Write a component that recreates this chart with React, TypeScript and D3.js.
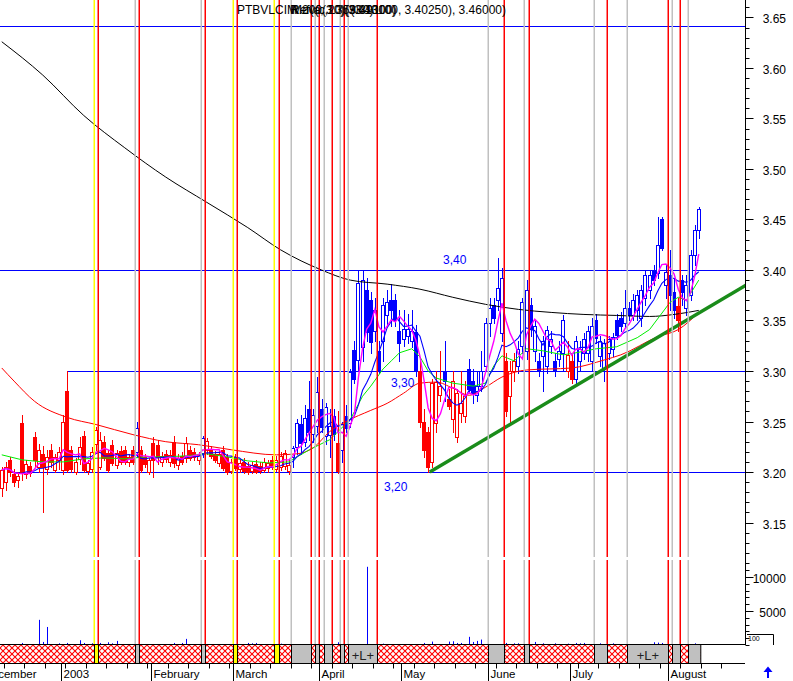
import React, { useEffect, useRef } from "react";
import * as d3 from "d3";

type Bar = [number, number, number, number]; // open, high, low, close

// daily candles
const dec: Bar[] = [
  [3.184, 3.205, 3.176, 3.202], [3.190, 3.210, 3.182, 3.205], [3.212, 3.215, 3.196, 3.200],
  [3.198, 3.203, 3.186, 3.190], [3.192, 3.200, 3.185, 3.196], [3.249, 3.256, 3.192, 3.200],
  [3.198, 3.212, 3.194, 3.208], [3.206, 3.210, 3.196, 3.199], [3.235, 3.240, 3.205, 3.212],
  [3.205, 3.228, 3.200, 3.222], [3.218, 3.226, 3.160, 3.205], [3.203, 3.222, 3.198, 3.215],
  [3.222, 3.228, 3.205, 3.210], [3.202, 3.218, 3.200, 3.215], [3.212, 3.225, 3.203, 3.220],
];
const jan: Bar[] = [
  [3.202, 3.256, 3.198, 3.250], [3.280, 3.300, 3.200, 3.202], [3.222, 3.226, 3.200, 3.203],
  [3.200, 3.214, 3.198, 3.210], [3.213, 3.235, 3.208, 3.225], [3.236, 3.241, 3.200, 3.202],
  [3.201, 3.212, 3.198, 3.209], [3.203, 3.225, 3.200, 3.220], [3.228, 3.245, 3.222, 3.242],
  [3.205, 3.240, 3.203, 3.232], [3.230, 3.236, 3.212, 3.214], [3.219, 3.222, 3.200, 3.202],
  [3.227, 3.232, 3.207, 3.209], [3.207, 3.222, 3.204, 3.219], [3.221, 3.226, 3.208, 3.210],
  [3.222, 3.226, 3.208, 3.210], [3.210, 3.218, 3.206, 3.215], [3.222, 3.226, 3.208, 3.210],
  [3.220, 3.250, 3.215, 3.244], [3.222, 3.226, 3.200, 3.202], [3.215, 3.218, 3.205, 3.208],
  [3.200, 3.214, 3.198, 3.212],
];
const feb: Bar[] = [
  [3.229, 3.235, 3.195, 3.212], [3.227, 3.232, 3.208, 3.215], [3.210, 3.220, 3.206, 3.216],
  [3.218, 3.222, 3.210, 3.213], [3.210, 3.222, 3.206, 3.217], [3.230, 3.236, 3.205, 3.209],
  [3.207, 3.218, 3.203, 3.214], [3.216, 3.220, 3.208, 3.210], [3.214, 3.235, 3.210, 3.229],
  [3.222, 3.226, 3.212, 3.214], [3.220, 3.224, 3.212, 3.215], [3.212, 3.220, 3.208, 3.217],
  [3.219, 3.236, 3.215, 3.234], [3.222, 3.234, 3.218, 3.231], [3.222, 3.226, 3.214, 3.216],
  [3.218, 3.221, 3.210, 3.212], [3.209, 3.222, 3.206, 3.218], [3.222, 3.226, 3.202, 3.204],
  [3.215, 3.218, 3.198, 3.200], [3.201, 3.213, 3.199, 3.210],
];
const mar: Bar[] = [
  [3.215, 3.218, 3.202, 3.204], [3.203, 3.212, 3.200, 3.209], [3.210, 3.214, 3.199, 3.201],
  [3.206, 3.210, 3.198, 3.200], [3.201, 3.210, 3.199, 3.207], [3.208, 3.212, 3.199, 3.200],
  [3.206, 3.210, 3.199, 3.201], [3.202, 3.214, 3.200, 3.210], [3.204, 3.212, 3.200, 3.209],
  [3.212, 3.216, 3.203, 3.205], [3.203, 3.216, 3.201, 3.212], [3.205, 3.220, 3.202, 3.216],
  [3.206, 3.222, 3.203, 3.219], [3.201, 3.212, 3.198, 3.207], [3.215, 3.226, 3.205, 3.224],
  [3.225, 3.252, 3.218, 3.249], [3.248, 3.256, 3.218, 3.229], [3.230, 3.266, 3.226, 3.253],
  [3.262, 3.290, 3.232, 3.240], [3.238, 3.262, 3.230, 3.256], [3.246, 3.294, 3.240, 3.279],
];
const apr: Bar[] = [
  [3.262, 3.272, 3.240, 3.245], [3.236, 3.268, 3.228, 3.264], [3.237, 3.262, 3.215, 3.246],
  [3.255, 3.262, 3.232, 3.238], [3.229, 3.260, 3.199, 3.201], [3.222, 3.250, 3.210, 3.248],
  [3.255, 3.266, 3.240, 3.244], [3.249, 3.302, 3.245, 3.299], [3.321, 3.330, 3.288, 3.292],
  [3.311, 3.400, 3.300, 3.387], [3.324, 3.400, 3.310, 3.390], [3.380, 3.392, 3.330, 3.339],
  [3.370, 3.378, 3.318, 3.329], [3.340, 3.372, 3.330, 3.360], [3.320, 3.330, 3.298, 3.300],
  [3.330, 3.372, 3.310, 3.365], [3.355, 3.380, 3.345, 3.368], [3.370, 3.386, 3.345, 3.360],
  [3.370, 3.376, 3.345, 3.350], [3.340, 3.360, 3.310, 3.328],
];
const may: Bar[] = [
  [3.332, 3.360, 3.325, 3.342], [3.335, 3.356, 3.328, 3.342], [3.330, 3.360, 3.324, 3.340],
  [3.339, 3.346, 3.295, 3.300], [3.300, 3.310, 3.245, 3.250], [3.250, 3.262, 3.215, 3.222],
  [3.240, 3.245, 3.200, 3.205], [3.210, 3.292, 3.205, 3.288], [3.249, 3.300, 3.240, 3.289],
  [3.276, 3.320, 3.270, 3.285], [3.300, 3.330, 3.270, 3.290], [3.272, 3.282, 3.262, 3.265],
  [3.252, 3.300, 3.240, 3.290], [3.235, 3.282, 3.230, 3.278], [3.258, 3.300, 3.250, 3.268],
  [3.255, 3.290, 3.250, 3.275], [3.302, 3.312, 3.278, 3.282], [3.290, 3.302, 3.268, 3.278],
  [3.276, 3.300, 3.270, 3.285], [3.285, 3.320, 3.280, 3.300], [3.305, 3.352, 3.300, 3.348],
];
const jun: Bar[] = [
  [3.348, 3.372, 3.335, 3.362], [3.365, 3.372, 3.348, 3.352], [3.370, 3.412, 3.360, 3.382],
  [3.338, 3.402, 3.330, 3.392], [3.310, 3.318, 3.255, 3.260], [3.275, 3.310, 3.250, 3.300],
  [3.300, 3.318, 3.290, 3.310], [3.305, 3.330, 3.298, 3.322], [3.325, 3.372, 3.318, 3.368],
  [3.320, 3.390, 3.312, 3.380], [3.365, 3.372, 3.335, 3.342], [3.320, 3.350, 3.310, 3.345],
  [3.310, 3.318, 3.295, 3.300], [3.315, 3.335, 3.280, 3.330], [3.305, 3.345, 3.298, 3.341],
  [3.325, 3.340, 3.318, 3.332], [3.310, 3.318, 3.295, 3.300], [3.312, 3.330, 3.305, 3.320],
  [3.318, 3.355, 3.300, 3.350], [3.300, 3.330, 3.294, 3.316],
];
const jul: Bar[] = [
  [3.310, 3.318, 3.288, 3.292], [3.292, 3.335, 3.285, 3.330], [3.310, 3.330, 3.300, 3.322],
  [3.318, 3.338, 3.312, 3.332], [3.318, 3.345, 3.310, 3.340], [3.310, 3.352, 3.300, 3.345],
  [3.350, 3.356, 3.328, 3.333], [3.315, 3.335, 3.305, 3.330], [3.302, 3.332, 3.290, 3.328],
  [3.318, 3.335, 3.312, 3.332], [3.322, 3.338, 3.315, 3.334], [3.350, 3.356, 3.332, 3.336],
  [3.352, 3.358, 3.340, 3.345], [3.348, 3.380, 3.344, 3.362], [3.362, 3.368, 3.350, 3.355],
  [3.355, 3.376, 3.350, 3.370], [3.360, 3.380, 3.350, 3.375], [3.352, 3.385, 3.345, 3.380],
  [3.372, 3.400, 3.365, 3.395], [3.380, 3.400, 3.372, 3.395], [3.400, 3.405, 3.385, 3.390],
  [3.397, 3.452, 3.392, 3.425], [3.450, 3.452, 3.420, 3.422], [3.385, 3.405, 3.372, 3.398],
];
const aug: Bar[] = [
  [3.395, 3.420, 3.360, 3.375], [3.378, 3.392, 3.352, 3.360], [3.364, 3.372, 3.340, 3.350],
  [3.390, 3.395, 3.365, 3.378], [3.362, 3.395, 3.355, 3.385], [3.375, 3.420, 3.370, 3.415],
  [3.415, 3.445, 3.405, 3.440], [3.440, 3.462, 3.432, 3.460],
];

const volDec = [0, 0, 0, 0, 0, 300, 0, 0, 0, 3700, 450, 2650, 0, 0, 250];
const volJan = [0, 300, 0, 0, 700, 300, 0, 250, 0, 300, 0, 400, 250, 600, 0, 0, 0, 0, 0, 150, 0, 0];
const volFeb = [0, 0, 0, 0, 0, 300, 0, 300, 900, 0, 0, 0, 0, 0, 0, 0, 0, 0, 0, 0];
const volMar = [0, 0, 0, 300, 250, 300, 0, 0, 0, 0, 0, 200, 0, 0, 0, 0, 0, 0, 0, 0, 0];
const volApr = [0, 0, 0, 0, 400, 0, 0, 0, 0, 0, 0, 11500, 0, 0, 0, 200, 0, 0, 0, 0];
const volMay = [0, 0, 0, 0, 0, 300, 0, 500, 0, 0, 0, 500, 550, 300, 300, 0, 1200, 450, 600, 800, 0];
const volJun = [0, 0, 0, 0, 300, 0, 250, 250, 0, 0, 0, 450, 0, 250, 0, 0, 250, 0, 0, 200];
const volJul = [0, 300, 250, 300, 0, 0, 0, 250, 0, 0, 250, 0, 0, 0, 0, 0, 0, 0, 0, 0, 400, 350, 300, 0];
const volAug = [0, 0, 0, 0, 0, 0, 250, 0];

// candles drawn in blue (index ranges, inclusive)
const blueRuns: [number, number][] = [
  [33, 33], [49, 49], [71, 81], [83, 101], [108, 108], [114, 122], [126, 137], [140, 164], [166, 170],
];

const months = [
  { label: "December", i: -4.5 },
  { label: "2003", i: 15 },
  { label: "February", i: 37 },
  { label: "March", i: 57 },
  { label: "April", i: 78 },
  { label: "May", i: 98 },
  { label: "June", i: 119 },
  { label: "July", i: 139 },
  { label: "August", i: 163 },
];

// system signals: entry bar, exit bar, kind
const trades: { entry: number; exit: number | null; kind: string }[] = [
  { entry: 23, exit: 24, kind: "yellow" },
  { entry: 33, exit: 34, kind: "gray" },
  { entry: 49, exit: 50, kind: "gray" },
  { entry: 57, exit: 58, kind: "yellow" },
  { entry: 67, exit: 68, kind: "yellow" },
  { entry: 71, exit: 76, kind: "gray" },
  { entry: 77, exit: 78, kind: "gray" },
  { entry: 79, exit: 81, kind: "gray" },
  { entry: 83, exit: 84, kind: "gray" },
  { entry: 85, exit: 92, kind: "gray" },
  { entry: 119, exit: 123, kind: "gray" },
  { entry: 128, exit: 129, kind: "gray" },
  { entry: 145, exit: 148, kind: "gray" },
  { entry: 153, exit: 163, kind: "gray" },
  { entry: 164, exit: 166, kind: "gray" },
  { entry: 168, exit: null, kind: "gray" },
];

// slow averages (bar index, value)
const ma200: [number, number][] = [
  [0, 3.626], [10, 3.593], [20, 3.553], [30, 3.521], [40, 3.492], [50, 3.467], [60, 3.442],
  [68, 3.420], [78, 3.400], [85, 3.390], [94, 3.386], [102, 3.381], [110, 3.373], [118, 3.366],
  [126, 3.361], [134, 3.358], [142, 3.356], [150, 3.355], [158, 3.354], [164, 3.356], [170, 3.360],
];
const ma50: [number, number][] = [
  [0, 3.303], [3, 3.290], [8, 3.270], [16, 3.254], [23, 3.247], [32, 3.237], [40, 3.230],
  [48, 3.227], [56, 3.222], [67, 3.217], [72, 3.218], [76, 3.224], [80, 3.240], [84, 3.250],
  [90, 3.261], [94, 3.268], [98, 3.278], [102, 3.288], [106, 3.289], [110, 3.283], [114, 3.276],
  [118, 3.284], [122, 3.294], [128, 3.301], [139, 3.303], [147, 3.311], [151, 3.316],
  [160, 3.334], [165, 3.341], [170, 3.358],
];
const ma20: [number, number][] = [
  [0, 3.217], [5, 3.212], [10, 3.210], [15, 3.210], [20, 3.213], [25, 3.214], [30, 3.213],
  [35, 3.215], [40, 3.215], [45, 3.216], [50, 3.218], [55, 3.215], [60, 3.211], [65, 3.209],
  [70, 3.210], [75, 3.222], [80, 3.232], [85, 3.252], [88, 3.275], [90, 3.285], [93, 3.302],
  [95, 3.310], [97, 3.318], [100, 3.322], [102, 3.314], [104, 3.300], [106, 3.293], [110, 3.288],
  [115, 3.285], [118, 3.288], [120, 3.305], [122, 3.315], [125, 3.310], [128, 3.322],
  [132, 3.320], [137, 3.316], [140, 3.318], [145, 3.322], [150, 3.324], [155, 3.333],
  [158, 3.341], [163, 3.368], [165, 3.373], [167, 3.370], [170, 3.390],
];
const fastPeriod = 5;
const midPeriod = 10;

const levels = [
  { price: 3.642, from: 0, label: "" },
  { price: 3.40, from: 0, label: "3,40" },
  { price: 3.30, from: 16, label: "3,30" },
  { price: 3.20, from: 0, label: "3,20" },
];
const trend: [number, number][] = [[104.4, 3.2], [181.5, 3.385]];

const titleMain = "PTBVLCIM";
const titleOver = ["R.200(3.35980)", "Ref(a, 10)(3.41000)", "Mov(c,20)(3.39100)"];
const titleEnd = "(3.43100, 3.40250), 3.46000)";

const W = 793, H = 681;
const FONT = "'Liberation Sans', Arial, Helvetica, sans-serif";

export default function App() {
  const ref = useRef<SVGSVGElement>(null);

  useEffect(() => {
    const svg = d3.select(ref.current);
    svg.selectAll("*").remove();

    const bars: Bar[] = [...dec, ...jan, ...feb, ...mar, ...apr, ...may, ...jun, ...jul, ...aug];
    const vols = [...volDec, ...volJan, ...volFeb, ...volMar, ...volApr, ...volMay, ...volJun, ...volJul, ...volAug];
    const N = bars.length;

    const plotRight = 745;
    const priceBottom = 557;
    const volTop = 560;
    const stripTop = 644.5, stripBot = 663.5;

    const xEdge = d3.scaleLinear().domain([0, N]).range([-0.3, -0.3 + 4.1 * N]);
    const xc = (i: number) => xEdge(i) + 2.05;
    const y = d3.scaleLinear().domain([3.2, 3.4]).range([472, 270]);
    const yv = d3.scaleLinear().domain([0, 10000]).range([645, 577]);

    svg.append("rect").attr("width", W).attr("height", H).attr("fill", "#fff");

    const defs = svg.append("defs");
    const pat = defs.append("pattern").attr("id", "hatch").attr("patternUnits", "userSpaceOnUse")
      .attr("width", 6).attr("height", 6);
    pat.append("rect").attr("width", 6).attr("height", 6).attr("fill", "#fff");
    pat.append("path").attr("d", "M0,0L6,6M6,0L0,6").attr("stroke", "#ff0000").attr("stroke-width", 1.1);
    defs.append("clipPath").attr("id", "pclip").append("rect")
      .attr("x", 0).attr("y", 0).attr("width", plotRight).attr("height", priceBottom);

    const price = svg.append("g").attr("clip-path", "url(#pclip)");

    // horizontal levels
    levels.forEach((l) => {
      const yy = Math.round(y(l.price)) + 0.5;
      price.append("line").attr("x1", l.from ? xc(l.from) : 0).attr("x2", plotRight)
        .attr("y1", yy).attr("y2", yy).attr("stroke", "#0000ff").attr("stroke-width", 1);
    });

    // candles
    const isBlue = (i: number) => blueRuns.some(([a, b]) => i >= a && i <= b);
    bars.forEach((b, i) => {
      const [o, h, l, c] = b;
      const col = isBlue(i) ? "#0000ff" : "#ff0000";
      const cx = Math.round(xc(i));
      price.append("line").attr("x1", cx + 0.5).attr("x2", cx + 0.5)
        .attr("y1", Math.round(y(h))).attr("y2", Math.round(y(l)) + 1)
        .attr("stroke", col).attr("stroke-width", 1);
      const top = Math.round(y(Math.max(o, c)));
      const bot = Math.round(y(Math.min(o, c)));
      price.append("rect").attr("x", cx - 1.5).attr("width", 3)
        .attr("y", top + 0.5).attr("height", Math.max(1, bot - top))
        .attr("fill", c < o ? col : "#fff").attr("stroke", col).attr("stroke-width", 1);
    });

    // signal lines
    const vline = (i: number, color: string) => {
      const xx = Math.round(xEdge(i)) + 0.25;
      [[0, priceBottom], [volTop, stripTop]].forEach(([a, bb]) => {
        svg.append("line").attr("x1", xx).attr("x2", xx).attr("y1", a).attr("y2", bb)
          .attr("stroke", color).attr("stroke-width", 1.5);
      });
    };
    trades.forEach((t) => {
      vline(t.entry, t.kind === "yellow" ? "#ffff00" : "#c0c0c0");
      if (t.exit !== null) vline(t.exit, "#ff0000");
    });

    // moving averages
    const sparse = d3.line<[number, number]>().x((d) => xc(d[0])).y((d) => y(d[1])).curve(d3.curveMonotoneX);
    const closes = bars.map((b) => b[3]);
    const sma = (n: number): [number, number][] =>
      closes.map((_, i) => [i, d3.mean(closes.slice(Math.max(0, i - n + 1), i + 1)) as number]);
    const lin = d3.line<[number, number]>().x((d) => xc(d[0])).y((d) => y(d[1]));

    price.append("path").attr("d", sparse(ma200)).attr("fill", "none").attr("stroke", "#000").attr("stroke-width", 1);
    price.append("path").attr("d", sparse(ma50)).attr("fill", "none").attr("stroke", "#ff0000").attr("stroke-width", 1);
    price.append("path").attr("d", lin(ma20)).attr("fill", "none").attr("stroke", "#00ee00").attr("stroke-width", 1);
    price.append("path").attr("d", lin(sma(midPeriod))).attr("fill", "none").attr("stroke", "#0000ff").attr("stroke-width", 1.1);
    price.append("path").attr("d", lin(sma(fastPeriod))).attr("fill", "none").attr("stroke", "#ff00ff").attr("stroke-width", 1.4);

    // trend line
    price.append("line").attr("x1", xc(trend[0][0])).attr("y1", y(trend[0][1]))
      .attr("x2", xc(trend[1][0])).attr("y2", y(trend[1][1]))
      .attr("stroke", "#1a8c1a").attr("stroke-width", 3.5);

    // level labels
    const labelPos: Record<string, [number, number]> = { "3,40": [443, -6], "3,30": [391, 16], "3,20": [384, 19] };
    levels.filter((l) => l.label).forEach((l) => {
      const [lx, dy] = labelPos[l.label];
      svg.append("text").attr("x", lx).attr("y", y(l.price) + dy).text(l.label)
        .attr("font-family", FONT).attr("font-size", 12).attr("fill", "#0000ff");
    });

    // volume
    vols.forEach((v, i) => {
      if (!v) return;
      const cx = Math.round(xc(i)) + 0.5;
      svg.append("line").attr("x1", cx).attr("x2", cx).attr("y1", yv(0)).attr("y2", yv(v))
        .attr("stroke", "#0000ff").attr("stroke-width", 1);
    });

    // position strip
    const stripEnd = xEdge(N);
    svg.append("rect").attr("x", 0).attr("y", stripTop).attr("width", stripEnd).attr("height", stripBot - stripTop)
      .attr("fill", "url(#hatch)");
    trades.forEach((t) => {
      const x0 = Math.round(xEdge(t.entry)) + 0.5;
      const x1 = t.exit === null ? stripEnd : Math.round(xEdge(t.exit)) + 0.5;
      svg.append("rect").attr("x", x0).attr("y", stripTop).attr("width", x1 - x0).attr("height", stripBot - stripTop)
        .attr("fill", t.kind === "yellow" ? "#ffff00" : "#c0c0c0").attr("stroke", "#000").attr("stroke-width", 1);
      if (t.exit !== null && t.exit - t.entry >= 6) {
        svg.append("text").attr("x", (x0 + x1) / 2).attr("y", stripBot - 4).attr("text-anchor", "middle")
          .attr("font-family", FONT).attr("font-size", 13).attr("fill", "#222").text("+L+");
      }
    });
    [stripTop, stripBot].forEach((yy) =>
      svg.append("line").attr("x1", 0).attr("x2", plotRight).attr("y1", yy).attr("y2", yy).attr("stroke", "#000"));

    // time axis
    for (let i = 1; xEdge(i) < plotRight - 4; i += 5) {
      const xx = Math.round(xEdge(i)) + 0.5;
      svg.append("line").attr("x1", xx).attr("x2", xx).attr("y1", stripBot).attr("y2", stripBot + 5).attr("stroke", "#000");
    }
    months.forEach((m) => {
      const xx = Math.round(xEdge(m.i)) + 0.5;
      svg.append("line").attr("x1", xx).attr("x2", xx).attr("y1", stripBot).attr("y2", H).attr("stroke", "#000");
      svg.append("text").attr("x", xx + 2).attr("y", 678).text(m.label)
        .attr("font-family", FONT).attr("font-size", 11.5).attr("fill", "#000");
    });

    // right axes
    const ax = plotRight + 0.5;
    svg.append("line").attr("x1", ax).attr("x2", ax).attr("y1", 0).attr("y2", 645).attr("stroke", "#000");
    for (let k = 312; k <= 366; k++) {
      const p = k / 100;
      const yy = Math.round(y(p)) + 0.5;
      const major = k % 5 === 0;
      svg.append("line").attr("x1", ax).attr("x2", ax + (major ? 8 : 4)).attr("y1", yy).attr("y2", yy).attr("stroke", "#000");
      if (major && k >= 315 && k <= 365) {
        svg.append("text").attr("x", 786).attr("y", yy + 5.5).attr("text-anchor", "end").text(d3.format(".2f")(p))
          .attr("font-family", FONT).attr("font-size", 12).attr("fill", "#000");
      }
    }
    for (let k = 0; k <= 12; k++) {
      const yy = Math.round(yv(k * 1000)) + 0.5;
      const major = k % 5 === 0 && k > 0;
      svg.append("line").attr("x1", ax).attr("x2", ax + (major ? 8 : 4)).attr("y1", yy).attr("y2", yy).attr("stroke", "#000");
      if (major) {
        svg.append("text").attr("x", 786).attr("y", yy + 5).attr("text-anchor", "end").text(String(k * 1000))
          .attr("font-family", FONT).attr("font-size", 12).attr("fill", "#000");
      }
    }
    svg.append("path").attr("d", "M747,634.5H773.5V645").attr("fill", "none").attr("stroke", "#000");
    svg.append("text").attr("x", 748).attr("y", 641).text("100").attr("font-family", FONT).attr("font-size", 7);

    // arrow
    svg.append("path").attr("d", "M763.5,672L768,666.5L772.5,672Z").attr("fill", "#0000ff");
    svg.append("line").attr("x1", 768).attr("x2", 768).attr("y1", 671).attr("y2", 678).attr("stroke", "#0000ff").attr("stroke-width", 2);

    // title (overprinted, as in the source)
    const tt = (s: string, x: number, anchor = "start") =>
      svg.append("text").attr("x", x).attr("y", 14).attr("text-anchor", anchor).text(s)
        .attr("font-family", FONT).attr("font-size", 12).attr("fill", "#000");
    tt(titleMain, 237);
    titleOver.forEach((s, k) => tt(s, 290 + k));
    tt(titleEnd, 506, "end");
  }, []);

  return <svg ref={ref} width={W} height={H} style={{ position: "absolute", left: 0, top: 0 }} />;
}
